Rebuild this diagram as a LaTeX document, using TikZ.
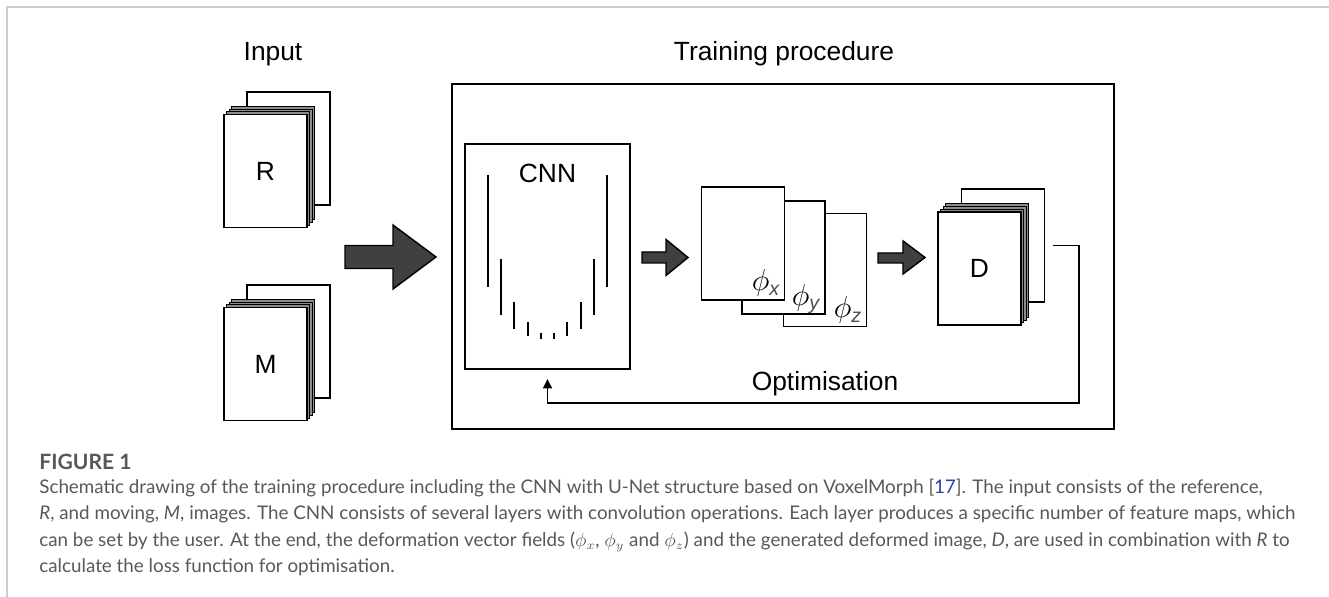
\documentclass[tikz,border=0pt]{standalone}
\usepackage{amsmath}
\usepackage{fontspec}
\setmainfont{Liberation Sans}
\newfontfamily\capfont{Lato}
\usetikzlibrary{arrows.meta,calc,positioning}
\definecolor{capgray}{RGB}{88,88,88}
\definecolor{refblue}{RGB}{40,60,170}
\definecolor{framegray}{RGB}{205,205,205}
\newcommand{\fieldsub}[1]{\textcolor{black!70}{\textit{#1}}}
\tikzset{
  sheet/.style={draw,fill=white,line width=0.85pt,minimum width=1.66cm,minimum height=2.27cm,inner sep=0pt},
  layer/.style={sheet,fill=black!45,line width=0.6pt},
  lbl/.style={font=\fontsize{15}{18}\selectfont},
  phil/.style={font=\fontsize{16}{18}\selectfont,inner sep=0pt},
  box/.style={draw,line width=1.15pt,inner sep=0pt},
  bar/.style={line width=1.2pt},
  blk/.style={draw,line width=0.8pt,fill=black!75,line join=miter},
  fb/.style={line width=1pt,-{Triangle[length=1.9mm,width=1.8mm]}},
  captext/.style={font=\capfont\fontsize{10.7}{13}\selectfont,text=capgray,inner sep=0pt,anchor=base west},
}
\begin{document}
\begin{tikzpicture}[x=0.02cm,y=-0.02cm]
  \useasboundingbox (0,0) rectangle (1329,597);
  % page frame (top and left rule)
  \draw[framegray,line width=0.9pt] (7,597) -- (7,7) -- (1329,7);

  % headings
  \node[lbl] (inputlbl) at (273,54) {Input};
  \node[lbl] (trainlbl) at (784,54) {Training procedure};

  % input stacks R and M
  \node[sheet] (rback) at (288.5,148.5) {};
  \foreach \k in {3,2,1}
    \node[layer] (rl\k) at ($(265.5,171)+(2.6*\k,-2.6*\k)$) {};
  \node[sheet,lbl] (rfront) at (265.5,171) {R};

  \node[sheet] (mback) at (288.5,341.5) {};
  \foreach \k in {3,2,1}
    \node[layer] (ml\k) at ($(265.5,364)+(2.6*\k,-2.6*\k)$) {};
  \node[sheet,lbl] (mfront) at (265.5,364) {M};

  % big arrow into the training box
  \draw[blk] (345,245.5) -- (393,245.5) -- (393,225) -- (436,257)
    -- (393,289) -- (393,268.5) -- (345,268.5) -- cycle;

  % training box
  \node[box,minimum width=13.24cm,minimum height=6.9cm] (train) at (783,256.5) {};

  % CNN with U-shaped layers
  \node[box,minimum width=3.3cm,minimum height=4.5cm] (cnn) at (547.5,256.5) {};
  \node[lbl] (cnnlbl) at (547.5,173) {CNN};
  \foreach \x/\ya/\yb in {488/175/287, 501/259/315, 514/302/329, 528/322/336,
      541/333/339, 554/333/339, 567/322/336, 581/302/329, 594/259/315, 607/175/287}
    \draw[bar] (\x,\ya) -- (\x,\yb);

  \draw[blk] (642,252) -- (666,252) -- (666,239.5) -- (688,257.5)
    -- (666,275.5) -- (666,263) -- (642,263) -- cycle;

  % deformation fields
  \node[sheet] (phiz) at (825,270) {};
  \node[sheet] (phiy) at (783.5,257.5) {};
  \node[sheet] (phix) at (743,243.5) {};
  \node[phil] (phixl) at (766,283) {$\phi_{\fieldsub{x}}$};
  \node[phil] (phiyl) at (806,299) {$\phi_{\fieldsub{y}}$};
  \node[phil] (phizl) at (848,310) {$\phi_{\fieldsub{z}}$};

  \draw[blk] (878,253) -- (903,253) -- (903,241) -- (925,257.5)
    -- (903,274) -- (903,263) -- (878,263) -- cycle;

  % deformed image stack D
  \node[sheet] (dback) at (1003,245.5) {};
  \foreach \k in {3,2,1}
    \node[layer] (dl\k) at ($(979.5,268.5)+(2.6*\k,-2.6*\k)$) {};
  \node[sheet,lbl] (dfront) at (979.5,268.5) {D};

  % optimisation loop back to the CNN
  \coordinate (fbstart) at ([xshift=0.16cm]dback.east);
  \coordinate (fbcorner) at (1079,403);
  \draw[fb] (fbstart) -| (fbcorner) -| ([yshift=-0.18cm]cnn.south);
  \node[lbl] (optlbl) at (825,384) {Optimisation};

  % caption
  \node[captext,font=\capfont\bfseries\fontsize{12}{14}\selectfont] (fig) at (39,470) {FIGURE 1};
  \node[captext] (cap1) at (39,494) {Schematic drawing of the training procedure including the CNN with U-Net structure based on VoxelMorph [\textcolor{refblue}{17}]. The input consists of the reference,};
  \node[captext] (cap2) at (39,520) {\textit{R}, and moving, \textit{M}, images. The CNN consists of several layers with convolution operations. Each layer produces a specific number of feature maps, which};
  \node[captext] (cap3) at (39,547) {can be set by the user. At the end, the deformation vector fields ($\phi_x$, $\phi_y$ and $\phi_z$) and the generated deformed image, \textit{D}, are used in combination with \textit{R} to};
  \node[captext] (cap4) at (39,573) {calculate the loss function for optimisation.};
\end{tikzpicture}
\end{document}
